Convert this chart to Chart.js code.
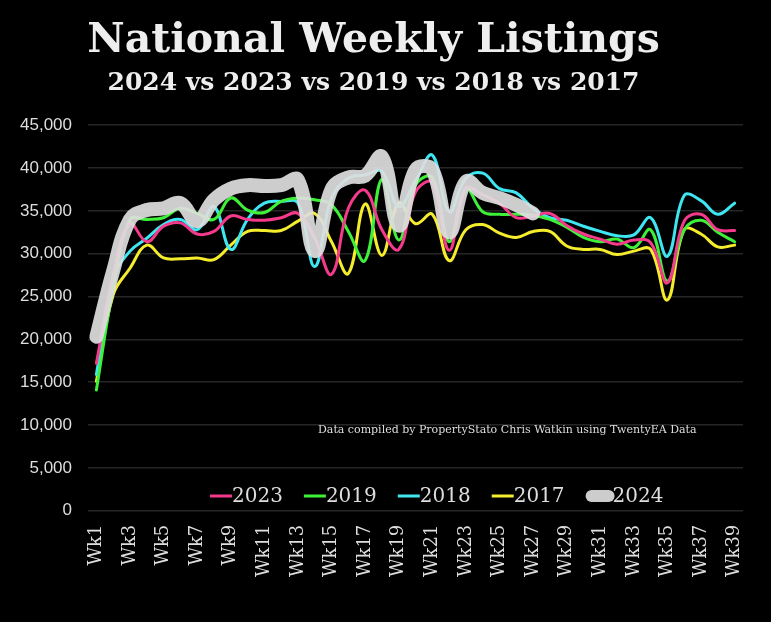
<!DOCTYPE html>
<html><head><meta charset="utf-8">
<script src="https://cdn.jsdelivr.net/npm/chart.js@4.4.1/dist/chart.umd.min.js"></script>
<style>html,body{margin:0;padding:0;background:#000;overflow:hidden}</style>
</head><body>
<canvas id="c" width="771" height="622"></canvas>
<script>
const weeks = ["Wk1","Wk2","Wk3","Wk4","Wk5","Wk6","Wk7","Wk8","Wk9","Wk10","Wk11","Wk12","Wk13","Wk14","Wk15","Wk16","Wk17","Wk18","Wk19","Wk20","Wk21","Wk22","Wk23","Wk24","Wk25","Wk26","Wk27","Wk28","Wk29","Wk30","Wk31","Wk32","Wk33","Wk34","Wk35","Wk36","Wk37","Wk38","Wk39"];
const seriesNames = ["2023","2019","2018","2017","2024"];
const y2023 = [17200,27500,33500,31400,33200,33600,32300,32600,34400,34000,33900,34200,34700,31800,27600,35300,37400,32800,30500,37200,38300,30400,37600,36900,35900,34200,34400,34700,33300,32300,31700,31100,31600,31300,26600,33800,34600,32800,32700];
const y2019 = [14100,26000,34000,34000,34200,35300,34700,34000,36500,35100,34800,36100,36500,36300,35700,32600,29200,38700,31600,38000,38900,31400,37600,34900,34600,34600,34500,34000,33100,31900,31400,31700,30700,32800,26800,32800,33900,32500,31400];
const y2018 = [15900,27100,30300,31800,33400,34000,32800,35500,30500,34000,35900,36100,35900,28500,36500,38800,39200,39600,35500,38500,41500,34900,38800,39400,37600,37100,35300,34200,33900,33200,32600,32100,32200,34200,29700,36800,36200,34600,35900];
const y2017 = [15100,25200,28300,31000,29500,29400,29500,29300,31000,32600,32700,32700,33800,34700,31400,27700,35800,29800,35900,33500,34600,29200,32800,33400,32400,31900,32600,32600,30900,30500,30500,29900,30300,30500,24600,32800,32300,30800,31000];
const y2024 = [20300,28000,34000,35100,35300,35900,33800,36300,37600,38000,37900,38000,38600,30300,37500,38900,39100,41300,33300,39800,39800,32500,38400,37100,36500,35700,34700];
const yTicks = [0,5000,10000,15000,20000,25000,30000,35000,40000,45000];
const titleText = "National Weekly Listings";
const subtitleText = "2024 vs 2023 vs 2019 vs 2018 vs 2017";
const noteText = "Data compiled by PropertyStato Chris Watkin using TwentyEA Data";

const colors = {"2023":"#f53a8c","2019":"#3ef03a","2018":"#3ee6f2","2017":"#f4ec2c","2024":"rgba(222,222,222,0.92)"};
const values = {"2023":y2023,"2019":y2019,"2018":y2018,"2017":y2017,"2024":y2024};
const textColor = "#dedede";

const datasets = seriesNames.map(n => {
  const big = n === "2024";
  return {
    label: n,
    data: values[n],
    borderColor: colors[n],
    backgroundColor: colors[n],
    borderWidth: big ? 14 : 3,
    tension: 0.4,
    pointRadius: 0,
    pointHoverRadius: 0,
    fill: false,
    borderCapStyle: 'round',
    borderJoinStyle: 'round',
    order: big ? -1 : 0
  };
});

const customLegend = {
  id: 'customLegend',
  afterDraw(chart) {
    const ctx = chart.ctx;
    ctx.save();
    ctx.font = '20px "DejaVu Serif"';
    ctx.textBaseline = 'middle';
    ctx.textAlign = 'left';
    let x = 210;
    const y = 496;
    chart.data.datasets.forEach(ds => {
      const big = ds.label === "2024";
      const len = big ? 29 : 22;
      ctx.strokeStyle = ds.borderColor;
      ctx.lineWidth = big ? 12 : 3;
      ctx.lineCap = big ? 'round' : 'butt';
      ctx.beginPath();
      if (big) { ctx.moveTo(x + 6, y); ctx.lineTo(x + len - 6, y); }
      else { ctx.moveTo(x, y); ctx.lineTo(x + len, y); }
      ctx.stroke();
      ctx.fillStyle = textColor;
      const tx = x + len - (big ? 2 : 0);
      ctx.fillText(ds.label, tx, y + 1);
      x = tx + ctx.measureText(ds.label).width + 21;
    });
    ctx.font = '11px "DejaVu Serif"';
    ctx.fillStyle = textColor;
    ctx.fillText(noteText, 318, 430);
    ctx.restore();
  }
};

new Chart(document.getElementById('c'), {
  type: 'line',
  data: { labels: weeks, datasets },
  options: {
    responsive: false,
    animation: false,
    layout: { padding: { left: 4, right: 28, top: 0, bottom: 31 } },
    plugins: {
      legend: { display: false },
      tooltip: { enabled: false },
      title: {
        display: true, text: titleText, color: '#eeeeee',
        font: { family: 'DejaVu Serif', weight: 'bold', size: 41 },
        padding: { top: 17, bottom: 0 }
      },
      subtitle: {
        display: true, text: subtitleText, color: '#eeeeee',
        font: { family: 'DejaVu Serif', weight: 'bold', size: 25 },
        padding: { top: 2, bottom: 27 }
      }
    },
    scales: {
      x: {
        offset: true,
        grid: { display: false, drawTicks: false },
        border: { display: false },
        ticks: {
          autoSkip: false, minRotation: 90, maxRotation: 90, padding: 14,
          color: textColor, font: { family: 'DejaVu Serif', size: 18 },
          callback: function(v, i) { return i % 2 === 0 ? weeks[i] : ''; }
        }
      },
      y: {
        min: 0, max: 45000,
        afterBuildTicks(axis) { axis.ticks = yTicks.map(v => ({ value: v })); },
        grid: { color: '#262626', lineWidth: 1.5, drawTicks: false },
        border: { display: false },
        ticks: {
          padding: 16, color: textColor,
          font: { family: 'Liberation Sans', size: 17 },
          callback: v => v.toLocaleString('en-US')
        }
      }
    }
  },
  plugins: [customLegend]
});
</script>
</body></html>
